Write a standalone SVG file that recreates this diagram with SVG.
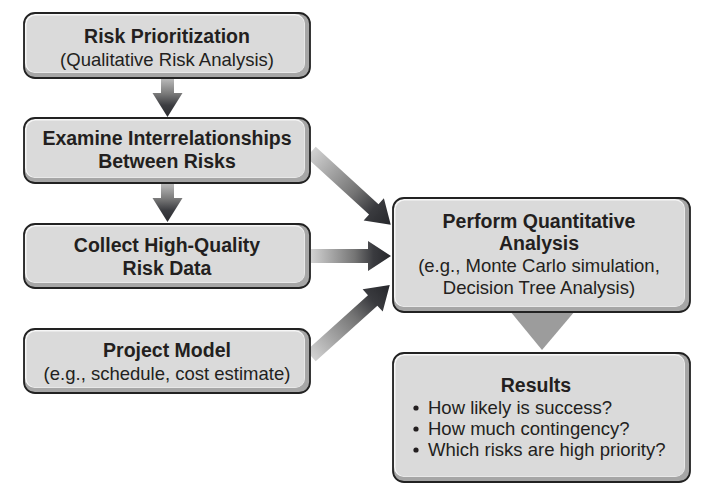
<svg xmlns="http://www.w3.org/2000/svg" width="711" height="495" viewBox="0 0 711 495">
<defs>
<linearGradient id="ag" x1="0" y1="0" x2="1" y2="0">
<stop offset="0" stop-color="#d2d2d2"/>
<stop offset="0.55" stop-color="#747474"/>
<stop offset="0.78" stop-color="#3a3b3f"/>
<stop offset="1" stop-color="#26272b"/>
</linearGradient>
<linearGradient id="vg" x1="0" y1="0" x2="1" y2="0">
<stop offset="0" stop-color="#bdbdbd"/>
<stop offset="0.4" stop-color="#7a7a7a"/>
<stop offset="0.7" stop-color="#3c3d41"/>
<stop offset="1" stop-color="#2a2b2f"/>
</linearGradient>
</defs>
<style>
.sh{fill:#a6a6a6}
.hl{fill:#f6f6f6}
.bg{fill:#dadada}
.bd{fill:none;stroke:#222;stroke-width:1.8}
text{font-family:"Liberation Sans",Arial,sans-serif;fill:#231f20;text-anchor:middle}
.b{font-weight:bold;font-size:19.5px}
.r{font-size:18.5px}
.l{text-anchor:start}
.dot{fill:#231f20}
</style>
<rect width="711" height="495" fill="#fff"/>

<g id="connectors">
<polygon transform="translate(167.5,78) rotate(90)" fill="url(#vg)" points="0,-6.5 15,-6.5 15,-15 39,0 15,15 15,6.5 0,6.5"/>
<polygon transform="translate(167.5,183) rotate(90)" fill="url(#vg)" points="0,-6.5 15,-6.5 15,-15 39,0 15,15 15,6.5 0,6.5"/>
<polygon transform="translate(311,152) rotate(42.4)" fill="url(#ag)" points="0,-7 85,-7 85,-15 108,0 85,15 85,7 0,7"/>
<polygon transform="translate(311,256)" fill="url(#ag)" points="0,-7 57,-7 57,-15 80,0 57,15 57,7 0,7"/>
<polygon transform="translate(311,356) rotate(-42)" fill="url(#ag)" points="0,-7 83,-7 83,-15 106,0 83,15 83,7 0,7"/>
<polygon fill="#9c9c9c" points="510,311 575,311 542,350"/>
</g>

<g id="risk-prioritization">
<rect class="sh" x="24" y="13" width="286" height="65" rx="11"/>
<rect class="hl" x="25" y="14" width="280" height="59" rx="10"/>
<rect class="bg" x="26.5" y="15.5" width="278" height="57" rx="9"/>
<rect class="bd" x="24" y="13" width="286" height="65" rx="11"/>
<text class="b" x="167" y="43">Risk Prioritization</text>
<text class="r" x="167" y="66">(Qualitative Risk Analysis)</text>
</g>

<g id="examine-interrelationships">
<rect class="sh" x="24" y="118" width="286" height="65" rx="11"/>
<rect class="hl" x="25" y="119" width="280" height="59" rx="10"/>
<rect class="bg" x="26.5" y="120.5" width="278" height="57" rx="9"/>
<rect class="bd" x="24" y="118" width="286" height="65" rx="11"/>
<text class="b" x="167" y="145">Examine Interrelationships</text>
<text class="b" x="167" y="168">Between Risks</text>
</g>

<g id="collect-data">
<rect class="sh" x="24" y="224" width="286" height="64" rx="11"/>
<rect class="hl" x="25" y="225" width="280" height="58" rx="10"/>
<rect class="bg" x="26.5" y="226.5" width="278" height="56" rx="9"/>
<rect class="bd" x="24" y="224" width="286" height="64" rx="11"/>
<text class="b" x="167" y="252">Collect High-Quality</text>
<text class="b" x="167" y="275">Risk Data</text>
</g>

<g id="project-model">
<rect class="sh" x="24" y="329" width="286" height="64" rx="11"/>
<rect class="hl" x="25" y="330" width="280" height="58" rx="10"/>
<rect class="bg" x="26.5" y="331.5" width="278" height="56" rx="9"/>
<rect class="bd" x="24" y="329" width="286" height="64" rx="11"/>
<text class="b" x="167" y="357">Project Model</text>
<text class="r" x="167" y="380">(e.g., schedule, cost estimate)</text>
</g>

<g id="quantitative-analysis">
<rect class="sh" x="393" y="198" width="297" height="114" rx="11"/>
<rect class="hl" x="394" y="199" width="291" height="108" rx="10"/>
<rect class="bg" x="395.5" y="200.5" width="289" height="106" rx="9"/>
<rect class="bd" x="393" y="198" width="297" height="114" rx="11"/>
<text class="b" x="539" y="228">Perform Quantitative</text>
<text class="b" x="539" y="250">Analysis</text>
<text class="r" x="539" y="272">(e.g., Monte Carlo simulation,</text>
<text class="r" x="539" y="294">Decision Tree Analysis)</text>
</g>

<g id="results">
<rect class="sh" x="393" y="353" width="297" height="129" rx="11"/>
<rect class="hl" x="394" y="354" width="291" height="123" rx="10"/>
<rect class="bg" x="395.5" y="355.5" width="289" height="121" rx="9"/>
<rect class="bd" x="393" y="353" width="297" height="129" rx="11"/>
<text class="b" x="536" y="392">Results</text>
<circle class="dot" cx="416" cy="408" r="2.6"/>
<circle class="dot" cx="416" cy="429" r="2.6"/>
<circle class="dot" cx="416" cy="450" r="2.6"/>
<text class="r l" x="428" y="414">How likely is success?</text>
<text class="r l" x="428" y="435">How much contingency?</text>
<text class="r l" x="428" y="456">Which risks are high priority?</text>
</g>
</svg>
